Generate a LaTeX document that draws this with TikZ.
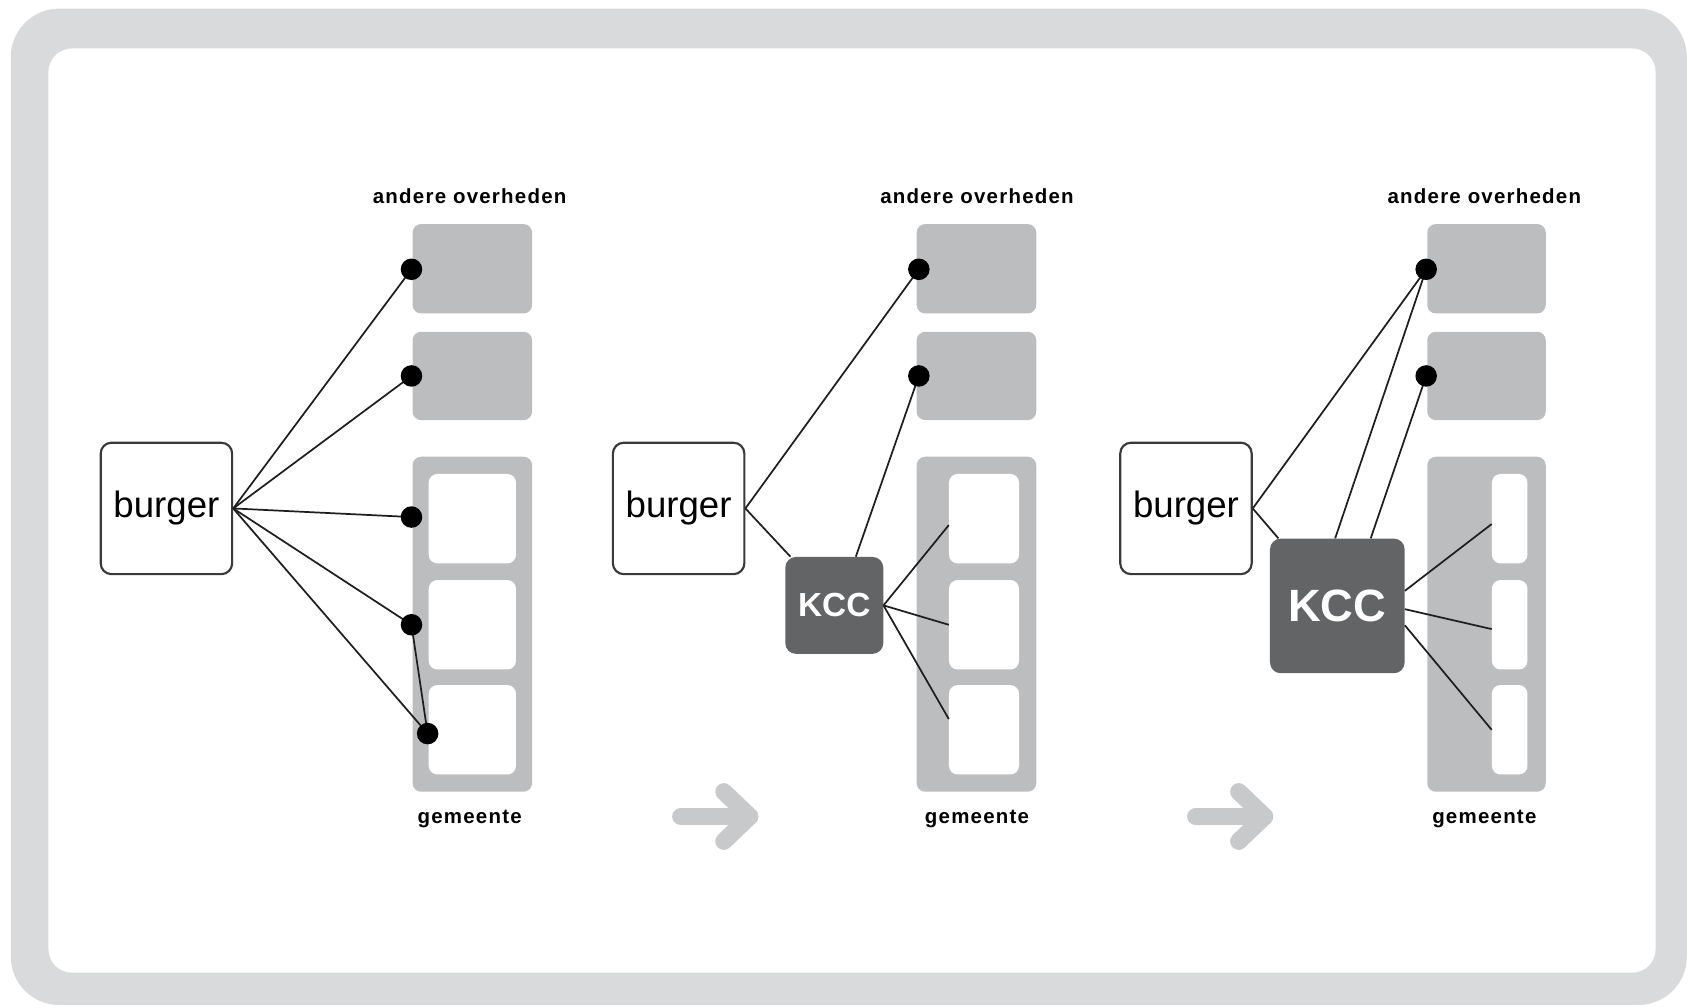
\documentclass[tikz,border=0pt]{standalone}
\usepackage{fontspec}
\setmainfont{Liberation Sans}
\definecolor{framegrey}{HTML}{D9DADB}
\definecolor{boxgrey}{HTML}{BCBDBF}
\definecolor{kccgrey}{HTML}{636466}
\definecolor{bordergrey}{HTML}{3A3A3A}
\definecolor{arrowgrey}{HTML}{C8C9CA}
\definecolor{linecol}{HTML}{1E1E1E}
\pgfdeclarelayer{front}
\pgfsetlayers{main,front}
\begin{document}
\begin{tikzpicture}[x=1pt,y=-1pt,
  greybox/.style={fill=boxgrey, rounded corners=8pt, inner sep=0pt, minimum width=#1},
  greybox/.default=111pt,
  whitebox/.style={fill=white, rounded corners=8pt, inner sep=0pt, minimum width=#1, minimum height=83pt},
  burgerbox/.style={draw=bordergrey, line width=2pt, fill=white, rounded corners=10pt, inner sep=0pt,
    minimum width=122pt, minimum height=122pt, font=\fontsize{34}{40}\selectfont},
  kccbox/.style={fill=kccgrey, text=white, rounded corners=10pt, inner sep=0pt},
  dotnode/.style={circle, fill=black, minimum size=20pt, inner sep=0pt},
  lbl/.style={font=\fontsize{19}{22}\bfseries\selectfont\addfontfeature{LetterSpace=6}, inner sep=0pt},
  conn/.style={draw=linecol, line width=1.6pt},
  bigarrow/.style={draw=arrowgrey, line width=16pt, line cap=round, line join=round}
]
\useasboundingbox (0,0) rectangle (1568,935);
% frame
\fill[framegrey, rounded corners=45pt] (10,8) rectangle (1566,933);
\fill[white, rounded corners=22pt] (45,45) rectangle (1537,903);

% ---------- panel 1 ----------
\node[greybox, minimum height=83pt] (g11) at (438.5,249.5) {};
\node[greybox, minimum height=82pt] (g12) at (438.5,349) {};
\node[greybox, minimum height=311pt] (g13) at (438.5,579.5) {};
\node[whitebox=81pt] (w11) at (438.5,481.5) {};
\node[whitebox=81pt] (w12) at (438.5,580) {};
\node[whitebox=81pt] (w13) at (438.5,677.5) {};
\node[lbl] (t11) at (436,182) {andere overheden};
\node[lbl] (t12) at (436,760) {gemeente};
\node[burgerbox] (b1) at (154.5,472) {burger};
\begin{pgfonlayer}{front}
\node[dotnode] (d11) at (382,250) {};
\node[dotnode] (d12) at (382,349) {};
\node[dotnode] (d13) at (382,480) {};
\node[dotnode] (d14) at (382,580) {};
\node[dotnode] (d15) at (397,681) {};
\end{pgfonlayer}
\draw[conn] (b1.east) -- (d11.center);
\draw[conn] (b1.east) -- (d12.center);
\draw[conn] (b1.east) -- (d13.center);
\draw[conn] (b1.east) -- (d14.center);
\draw[conn] (b1.east) -- (d15.center);
\draw[conn] (d14.center) -- (d15.center);

% ---------- panel 2 ----------
\node[greybox, minimum height=83pt] (g21) at (906.5,249.5) {};
\node[greybox, minimum height=82pt] (g22) at (906.5,349) {};
\node[greybox, minimum height=311pt] (g23) at (906.5,579.5) {};
\node[whitebox=65pt] (w21) at (913.5,481.5) {};
\node[whitebox=65pt] (w22) at (913.5,580) {};
\node[whitebox=65pt] (w23) at (913.5,677.5) {};
\node[lbl] (t21) at (907,182) {andere overheden};
\node[lbl] (t22) at (907,760) {gemeente};
\node[burgerbox] (b2) at (630,472) {burger};
\node[kccbox, minimum width=91pt, minimum height=90pt, font=\fontsize{31}{36}\bfseries\selectfont] (k2) at (774.5,562) {KCC};
\begin{pgfonlayer}{front}
\node[dotnode] (d21) at (853,250) {};
\node[dotnode] (d22) at (853,349) {};
\end{pgfonlayer}
\draw[conn] (b2.east) -- (d21.center);
\draw[conn] (b2.east) -- ([xshift=5pt]k2.north west);
\draw[conn] ([xshift=20pt]k2.north) -- (d22.center);
\draw[conn] (k2.east) -- ([yshift=-6pt]w21.west);
\draw[conn] (k2.east) -- (w22.west);
\draw[conn] (k2.east) -- ([yshift=10pt]w23.west);
\coordinate (a2s) at (632,758);
\coordinate (a2e) at (696,758);
\draw[bigarrow] (a2s) -- (a2e);
\draw[bigarrow] ([shift={(-24,-23)}]a2e) -- (a2e) -- ([shift={(-24,23)}]a2e);

% ---------- panel 3 ----------
\node[greybox=110pt, minimum height=83pt] (g31) at (1380,249.5) {};
\node[greybox=110pt, minimum height=82pt] (g32) at (1380,349) {};
\node[greybox=110pt, minimum height=311pt] (g33) at (1380,579.5) {};
\node[whitebox=33pt] (w31) at (1401.5,481.5) {};
\node[whitebox=33pt] (w32) at (1401.5,580) {};
\node[whitebox=33pt] (w33) at (1401.5,677.5) {};
\node[lbl] (t31) at (1378,182) {andere overheden};
\node[lbl] (t32) at (1378,760) {gemeente};
\node[burgerbox] (b3) at (1101,472) {burger};
\node[kccbox, minimum width=125pt, minimum height=125pt, font=\fontsize{42}{48}\bfseries\selectfont] (k3) at (1241.5,562.5) {KCC};
\begin{pgfonlayer}{front}
\node[dotnode] (d31) at (1324,250) {};
\node[dotnode] (d32) at (1324,349) {};
\end{pgfonlayer}
\draw[conn] (b3.east) -- (d31.center);
\draw[conn] (b3.east) -- ([xshift=8pt]k3.north west);
\draw[conn] ([xshift=-2pt]k3.north) -- (d31.center);
\draw[conn] ([xshift=31pt]k3.north) -- (d32.center);
\draw[conn] ([yshift=14pt]k3.east) -- ([yshift=-5pt]w31.west);
\draw[conn] ([yshift=-3pt]k3.east) -- ([yshift=-4pt]w32.west);
\draw[conn] ([yshift=-18pt]k3.east) -- ([yshift=0pt]w33.west);
\coordinate (a3s) at (1110,758);
\coordinate (a3e) at (1174,758);
\draw[bigarrow] (a3s) -- (a3e);
\draw[bigarrow] ([shift={(-24,-23)}]a3e) -- (a3e) -- ([shift={(-24,23)}]a3e);
\end{tikzpicture}
\end{document}
